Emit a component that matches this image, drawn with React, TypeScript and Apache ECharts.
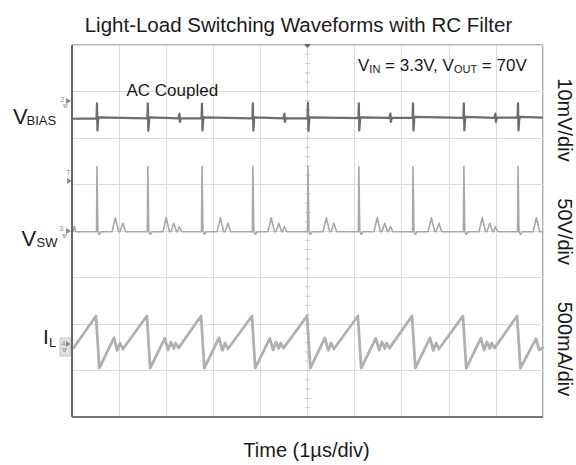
import React, { useEffect, useRef } from "react";
import * as echarts from "echarts";

// Time in µs (1 µs/div, 10 div)
// VBIAS (AC coupled), mV
const vbiasTrace: [number, number][] = [
  [0, -0.1],
  [0.52, 0], [0.53, 3.2], [0.54, -2.6], [0.56, 0.2],
  [1.6, 0], [1.61, 3.2], [1.62, -2.7], [1.64, 0.2],
  [2.26, 0], [2.28, 1.0], [2.29, -0.8], [2.31, 0],
  [2.75, 0], [2.76, 3.1], [2.77, -2.6], [2.79, 0.2],
  [3.83, 0], [3.84, 3.2], [3.85, -2.6], [3.87, 0.2],
  [4.49, 0], [4.51, 1.0], [4.52, -0.8], [4.54, 0],
  [5.0, 0.05], [5.01, 3.3], [5.02, -2.7], [5.04, 0.2],
  [6.08, 0.05], [6.09, 3.2], [6.1, -2.6], [6.12, 0.2],
  [6.74, 0.1], [6.76, 1.0], [6.77, -0.8], [6.79, 0.1],
  [7.23, 0.1], [7.24, 3.2], [7.25, -2.6], [7.27, 0.3],
  [8.31, 0.1], [8.32, 3.2], [8.33, -2.6], [8.35, 0.3],
  [8.97, 0.1], [8.99, 1.0], [9.0, -0.8], [9.02, 0.15],
  [9.46, 0.15], [9.47, 3.2], [9.48, -2.6], [9.5, 0.3],
  [10, 0.15],
];

// VSW, V
const vswTrace: [number, number][] = [
  [0, 0], [0.02, 0], [0.05, 6], [0.08, 0],
  [0.52, 0], [0.53, 70], [0.55, 0], [0.58, -3], [0.62, 0],
  [0.85, 0], [0.92, 15], [0.99, 0], [1.02, 0], [1.08, 9], [1.14, 0],
  [1.6, 0], [1.61, 70], [1.63, 0], [1.66, -3], [1.7, 0],
  [1.93, 0], [2.0, 15], [2.07, 0], [2.1, 0], [2.16, 9], [2.22, 0], [2.24, 0], [2.28, 5.5], [2.33, 0],
  [2.75, 0], [2.76, 70], [2.78, 0], [2.81, -3], [2.85, 0],
  [3.08, 0], [3.15, 15], [3.22, 0], [3.25, 0], [3.31, 9], [3.37, 0],
  [3.83, 0], [3.84, 70], [3.86, 0], [3.89, -3], [3.93, 0],
  [4.16, 0], [4.23, 15], [4.3, 0], [4.33, 0], [4.39, 9], [4.45, 0], [4.47, 0], [4.51, 5.5], [4.56, 0],
  [5.0, 0], [5.01, 70], [5.03, 0], [5.06, -3], [5.1, 0],
  [5.33, 0], [5.4, 15], [5.47, 0], [5.5, 0], [5.56, 9], [5.62, 0],
  [6.08, 0], [6.09, 70], [6.11, 0], [6.14, -3], [6.18, 0],
  [6.41, 0], [6.48, 15], [6.55, 0], [6.58, 0], [6.64, 9], [6.7, 0], [6.72, 0], [6.76, 5.5], [6.81, 0],
  [7.23, 0], [7.24, 70], [7.26, 0], [7.29, -3], [7.33, 0],
  [7.56, 0], [7.63, 15], [7.7, 0], [7.73, 0], [7.79, 9], [7.85, 0],
  [8.31, 0], [8.32, 70], [8.34, 0], [8.37, -3], [8.41, 0],
  [8.64, 0], [8.71, 15], [8.78, 0], [8.81, 0], [8.87, 9], [8.93, 0], [8.95, 0], [8.99, 5.5], [9.04, 0],
  [9.46, 0], [9.47, 70], [9.49, 0], [9.52, -3], [9.56, 0],
  [9.79, 0], [9.86, 15], [9.93, 0], [10, 0],
];

// IL, A
const ilTrace: [number, number][] = [
  [0, 0.0], [0.04, -0.01], [0.08, 0.02],
  [0.51, 0.33], [0.58, -0.23], [0.89, 0.095], [0.96, -0.04], [1.02, 0.04], [1.08, -0.025],
  [1.59, 0.33], [1.66, -0.23], [1.97, 0.09], [2.04, -0.035], [2.1, 0.05], [2.16, -0.02], [2.2, 0.04], [2.26, -0.015],
  [2.74, 0.33], [2.81, -0.23], [3.12, 0.095], [3.19, -0.04], [3.25, 0.04], [3.31, -0.025],
  [3.82, 0.33], [3.89, -0.23], [4.2, 0.09], [4.27, -0.035], [4.33, 0.05], [4.39, -0.02], [4.43, 0.04], [4.49, -0.015],
  [4.99, 0.33], [5.06, -0.23], [5.37, 0.095], [5.44, -0.04], [5.5, 0.04], [5.56, -0.025],
  [6.07, 0.33], [6.14, -0.23], [6.45, 0.09], [6.52, -0.035], [6.58, 0.05], [6.64, -0.02], [6.68, 0.04], [6.74, -0.015],
  [7.22, 0.33], [7.29, -0.23], [7.6, 0.095], [7.67, -0.04], [7.73, 0.04], [7.79, -0.025],
  [8.3, 0.33], [8.37, -0.23], [8.68, 0.09], [8.75, -0.035], [8.81, 0.05], [8.87, -0.02], [8.91, 0.04], [8.97, -0.015],
  [9.45, 0.33], [9.52, -0.23], [9.85, 0.085], [9.92, -0.035], [10, -0.01],
];

// per-channel vertical scale (units per division) and ground position (divisions from top)
const vbiasScale = 10; // mV/div
const vbiasZeroDiv = 1.576;
const vswScale = 50; // V/div
const vswZeroDiv = 4.015;
const ilScale = 0.5; // A/div
const ilZeroDiv = 6.488;

const TITLE = "Light-Load Switching Waveforms with RC Filter";
const X_LABEL = "Time (1µs/div)";
const SCALE_LABELS = ["10mV/div", "50V/div", "500mA/div"];

const FONT = "'Liberation Sans', Arial, Helvetica, sans-serif";
const GL = 72, GT = 45, GW = 471, GH = 372;

function axisRange(scale: number, zeroDiv: number) {
  return { min: -(8 - zeroDiv) * scale, max: zeroDiv * scale };
}

export default function App() {
  const ref = useRef<HTMLDivElement>(null);
  useEffect(() => {
    if (!ref.current) return;
    const chart = echarts.init(ref.current, undefined, { renderer: "svg" });
    const gR = GL + GW, gB = GT + GH;
    const cx = GL + GW / 2;
    const ticks: any[] = [];
    for (let i = 1; i < 40; i++) {
      const y = GT + (i * GH) / 40;
      ticks.push({ type: "line", silent: true, z: 1, shape: { x1: cx - 2.5, y1: y, x2: cx + 2.5, y2: y }, style: { stroke: "#c8c8c8", lineWidth: 1 } });
    }
    const textStyle = (text: string, x: number, y: number, size: number, align = "left") => ({
      type: "text", silent: true, z: 10,
      style: { text, x, y, fontSize: size, fontFamily: FONT, fill: "#1a1a1a", textAlign: align, textVerticalAlign: "middle" },
    });
    const r1 = axisRange(vbiasScale, vbiasZeroDiv);
    const r2 = axisRange(vswScale, vswZeroDiv);
    const r3 = axisRange(ilScale, ilZeroDiv);
    const markerColor = "#8a8a8a";
    chart.setOption({
      animation: false,
      grid: { left: GL, top: GT, width: GW, height: GH, show: true, borderColor: "#666", borderWidth: 1, backgroundColor: "#fff" },
      xAxis: {
        type: "value", min: 0, max: 10, interval: 1,
        axisLine: { show: false }, axisTick: { show: false }, axisLabel: { show: false },
        splitLine: { show: true, lineStyle: { color: "#dcdcdc", width: 1 } },
      },
      yAxis: [
        { type: "value", min: 0, max: 8, interval: 1, axisLine: { show: false }, axisTick: { show: false }, axisLabel: { show: false }, splitLine: { show: true, lineStyle: { color: "#dcdcdc", width: 1 } } },
        { type: "value", show: false, min: r1.min, max: r1.max, splitLine: { show: false } },
        { type: "value", show: false, min: r2.min, max: r2.max, splitLine: { show: false } },
        { type: "value", show: false, min: r3.min, max: r3.max, splitLine: { show: false } },
      ],
      series: [
        { name: "VBIAS", type: "line", yAxisIndex: 1, data: vbiasTrace, showSymbol: false, silent: true, z: 3, lineStyle: { color: "#6c6c6c", width: 2.2, join: "round" } },
        { name: "VSW", type: "line", yAxisIndex: 2, data: vswTrace, showSymbol: false, silent: true, z: 3, lineStyle: { color: "#a8a8a8", width: 1.6, join: "round" } },
        { name: "IL", type: "line", yAxisIndex: 3, data: ilTrace, showSymbol: false, silent: true, z: 3, lineStyle: { color: "#b0b0b0", width: 2.8, join: "round", cap: "round" } },
      ],
      graphic: [
        ...ticks,
        { type: "line", silent: true, z: 5, shape: { x1: GL, y1: GT, x2: GL, y2: gB }, style: { stroke: "#666", lineWidth: 2 } },
        { type: "line", silent: true, z: 5, shape: { x1: GL, y1: gB, x2: gR, y2: gB }, style: { stroke: "#777", lineWidth: 2 } },
        { type: "polygon", silent: true, z: 6, shape: { points: [[cx - 3.5, GT - 1], [cx + 3.5, GT - 1], [cx, GT + 3]] }, style: { fill: "#666" } },
        // channel markers
        { type: "text", silent: true, style: { text: "2", x: 60.5, y: 99, fontSize: 7, fontFamily: FONT, fill: markerColor, textVerticalAlign: "middle" } },
        { type: "polygon", silent: true, shape: { points: [[66, 98], [66, 104], [71, 101]] }, style: { fill: markerColor } },
        { type: "line", silent: true, shape: { x1: 63, y1: 105, x2: 68, y2: 105 }, style: { stroke: markerColor, lineWidth: 1 } },
        { type: "line", silent: true, shape: { x1: 64, y1: 107, x2: 67, y2: 107 }, style: { stroke: markerColor, lineWidth: 1 } },
        { type: "text", silent: true, style: { text: "T", x: 66.5, y: 172, fontSize: 7, fontFamily: FONT, fill: markerColor, textVerticalAlign: "middle" } },
        { type: "polygon", silent: true, shape: { points: [[67, 178], [67, 184], [72, 181]] }, style: { fill: markerColor } },
        { type: "text", silent: true, style: { text: "3", x: 59.5, y: 228.5, fontSize: 7, fontFamily: FONT, fill: markerColor, textVerticalAlign: "middle" } },
        { type: "polygon", silent: true, shape: { points: [[66, 228], [66, 234], [71, 231]] }, style: { fill: markerColor } },
        { type: "line", silent: true, shape: { x1: 62, y1: 235, x2: 67, y2: 235 }, style: { stroke: markerColor, lineWidth: 1 } },
        { type: "line", silent: true, shape: { x1: 63, y1: 237, x2: 66, y2: 237 }, style: { stroke: markerColor, lineWidth: 1 } },
        { type: "rect", silent: true, shape: { x: 60, y: 338, width: 11, height: 18 }, style: { fill: "#e2e2e2", stroke: "#c8c8c8", lineWidth: 1 } },
        { type: "text", silent: true, style: { text: "4", x: 61.5, y: 343.5, fontSize: 7, fontFamily: FONT, fill: markerColor, textVerticalAlign: "middle" } },
        { type: "polygon", silent: true, shape: { points: [[66, 341], [66, 347], [70.5, 344]] }, style: { fill: markerColor } },
        { type: "line", silent: true, shape: { x1: 62, y1: 349, x2: 67, y2: 349 }, style: { stroke: markerColor, lineWidth: 1 } },
        { type: "line", silent: true, shape: { x1: 63, y1: 351, x2: 66, y2: 351 }, style: { stroke: markerColor, lineWidth: 1 } },
        // labels
        textStyle(TITLE, 298.5, 24.5, 20.5, "center"),
        textStyle(X_LABEL, 306.5, 450, 20, "center"),
        textStyle("AC Coupled", 126.5, 90.5, 17),
        textStyle("V", 13, 116.5, 22),
        textStyle("BIAS", 26.5, 120.5, 13),
        textStyle("V", 21.5, 238, 22),
        textStyle("SW", 36.5, 242, 13),
        textStyle("I", 43, 336.7, 21),
        textStyle("L", 49, 342.8, 13),
        {
          type: "text", silent: true, z: 10,
          style: {
            text: "{b|V}{s|IN}{b| = 3.3V, V}{s|OUT}{b| = 70V}",
            x: 358, y: 64, textVerticalAlign: "middle", fontFamily: FONT, fill: "#1a1a1a",
            rich: {
              b: { fontSize: 17, fontFamily: FONT, fill: "#1a1a1a", lineHeight: 20, verticalAlign: "bottom" },
              s: { fontSize: 11, fontFamily: FONT, fill: "#1a1a1a", lineHeight: 14, verticalAlign: "bottom" },
            },
          },
        },
        ...SCALE_LABELS.map((t, i) => ({
          type: "text", silent: true, z: 10, x: 565, y: [120, 231.7, 349][i], rotation: -Math.PI / 2,
          style: { text: t, x: 0, y: 0, fontSize: 20, fontFamily: FONT, fill: "#1a1a1a", textAlign: "center", textVerticalAlign: "middle" },
        })),
      ],
    });
    return () => chart.dispose();
  }, []);
  return <div ref={ref} style={{ position: "fixed", left: 0, top: 0, width: 576, height: 465, background: "#fff" }} />;
}
